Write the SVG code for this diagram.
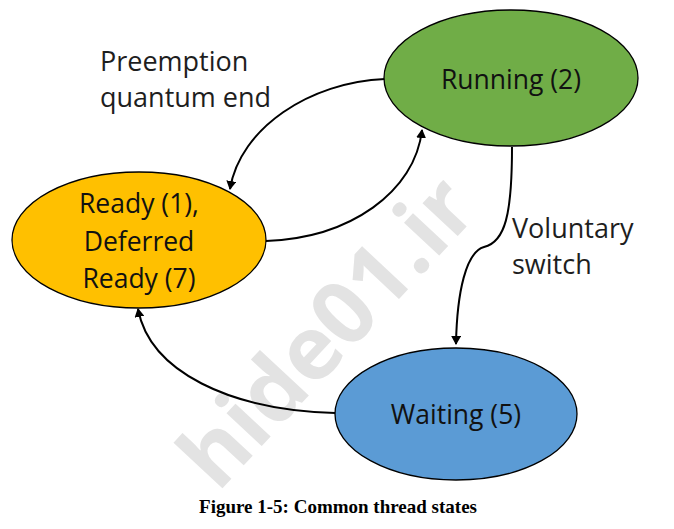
<svg xmlns="http://www.w3.org/2000/svg" width="674" height="529" viewBox="0 0 674 529">
<style>
.node ellipse{stroke:#000;stroke-width:1.3}
.lbl{font-family:"Open Sans","Noto Sans","Liberation Sans",sans-serif;font-size:26.5px;fill:#111;text-anchor:middle}
.edge{font-family:"Open Sans","Noto Sans","Liberation Sans",sans-serif;font-size:27px;fill:#1e1e1e}
.conn path{fill:none;stroke:#000;stroke-width:2}
</style>
<defs>
<marker id="ah" markerWidth="10" markerHeight="10" refX="8" refY="5" orient="auto" markerUnits="userSpaceOnUse">
<path d="M0,0 L9,5 L0,10 z" fill="#000"/>
</marker>
</defs>
<rect width="674" height="529" fill="#fff"/>
<text x="327" y="362" transform="rotate(-47 327 332)" text-anchor="middle" font-family="'Open Sans','Noto Sans',sans-serif" font-weight="bold" font-size="88" fill="#e3e3e3">hide01.ir</text>
<g class="conn">
<path d="M385,79 C310,82 240,128 230,189" marker-end="url(#ah)"/>
<path d="M266,241 C350,238 415,192 422,130" marker-end="url(#ah)"/>
<path d="M512,147 C512,215 505,242 484,247 C466,252 457,292 456,344" marker-end="url(#ah)"/>
<path d="M335,413 C230,410 150,372 138,309" marker-end="url(#ah)"/>
</g>
<g id="running" class="node">
<ellipse cx="511" cy="78" rx="127" ry="68" fill="#70AD47"/>
<text class="lbl" x="511" y="89">Running (2)</text>
</g>
<g id="ready" class="node">
<ellipse cx="139" cy="240" rx="127" ry="68" fill="#FFC000"/>
<text class="lbl" x="139" y="213">Ready (1),</text>
<text class="lbl" x="139" y="251">Deferred</text>
<text class="lbl" x="139" y="288">Ready (7)</text>
</g>
<g id="waiting" class="node">
<ellipse cx="456" cy="414" rx="121" ry="66" fill="#5B9BD5"/>
<text class="lbl" x="456" y="424">Waiting (5)</text>
</g>
<g id="labels">
<text class="edge" x="100" y="71">Preemption</text>
<text class="edge" x="100" y="107">quantum end</text>
<text class="edge" x="512" y="238">Voluntary</text>
<text class="edge" x="512" y="274">switch</text>
</g>
<text x="338" y="513" text-anchor="middle" font-family="'Liberation Serif','Times New Roman',serif" font-weight="bold" font-size="19" fill="#000">Figure 1-5: Common thread states</text>
</svg>
